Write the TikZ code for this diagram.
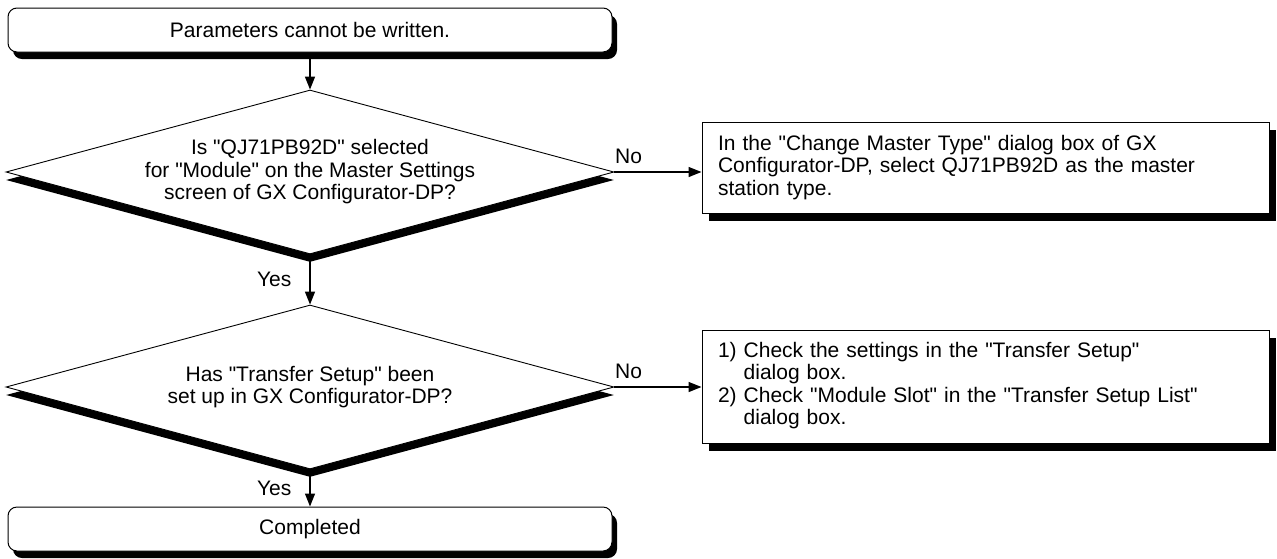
\documentclass[tikz,border=0pt]{standalone}
\usepackage{fontspec}
\setmainfont{Liberation Sans}
\usetikzlibrary{shapes.geometric,arrows.meta,shadows}
\newcommand{\qd}{\textquotedbl}
\begin{document}
\begin{tikzpicture}[x=1pt,y=-1pt,
  every node/.style={font=\fontsize{21}{22.5}\selectfont},
  term/.style={draw=black,line width=1pt,fill=white,rounded corners=9pt,
    minimum width=604pt,minimum height=44pt,inner sep=0pt,
    drop shadow={shadow xshift=5pt,shadow yshift=-7pt,opacity=1,fill=black}},
  dec/.style={draw=black,line width=0.9pt,fill=white,diamond,shape aspect=3.7,
    minimum width=608pt,minimum height=164pt,inner sep=0pt,align=center,
    drop shadow={shadow xshift=0pt,shadow yshift=-8pt,opacity=1,fill=black}},
  act/.style={draw=black,line width=1pt,fill=white,rectangle,
    text width=535pt,inner xsep=16pt,inner ysep=0pt,align=left,
    drop shadow={shadow xshift=7pt,shadow yshift=-8pt,opacity=1,fill=black}},
  arr/.style={line width=1.4pt,-{Triangle[length=13pt,width=10pt]}},
  lbl/.style={inner sep=0pt}
]
\useasboundingbox (0,0) rectangle (1277,558);
\node[term] (t) at (310,30) {Parameters cannot be written.};
\node[dec] (d1) at (310,172) {Is \qd QJ71PB92D\qd{} selected\\for \qd Module\qd{} on the Master Settings\\screen of GX Configurator-DP?};
\node[act,minimum height=91pt] (b1) at (985.5,167.5) {In the \qd Change Master Type\qd{} dialog box of GX\\Configurator-DP, select QJ71PB92D as the master\\station type.};
\node[dec] (d2) at (310,387) {Has \qd Transfer Setup\qd{} been\\set up in GX Configurator-DP?};
\node[act,minimum height=113pt] (b2) at (985.5,386.5) {%
\begin{tabular}{@{}l@{\ }l@{}}
1) & Check the settings in the \qd Transfer Setup\qd\\
   & dialog box.\\
2) & Check \qd Module Slot\qd{} in the \qd Transfer Setup List\qd\\
   & dialog box.
\end{tabular}};
\node[term] (c) at (310,529) {Completed};

\draw[arr] (t.south) -- (d1.north);
\draw[arr] (d1.south) -- node[lbl,left,xshift=-18pt] {Yes} (d2.north);
\draw[arr] (d2.south) -- node[lbl,left,xshift=-18pt] {Yes} (c.north);
\draw[arr] (d1.east) -- node[lbl,pos=0,anchor=base west,yshift=9pt] {No} (d1.east -| b1.west);
\draw[arr] (d2.east) -- node[lbl,pos=0,anchor=base west,yshift=9pt] {No} (d2.east -| b2.west);
\end{tikzpicture}
\end{document}
